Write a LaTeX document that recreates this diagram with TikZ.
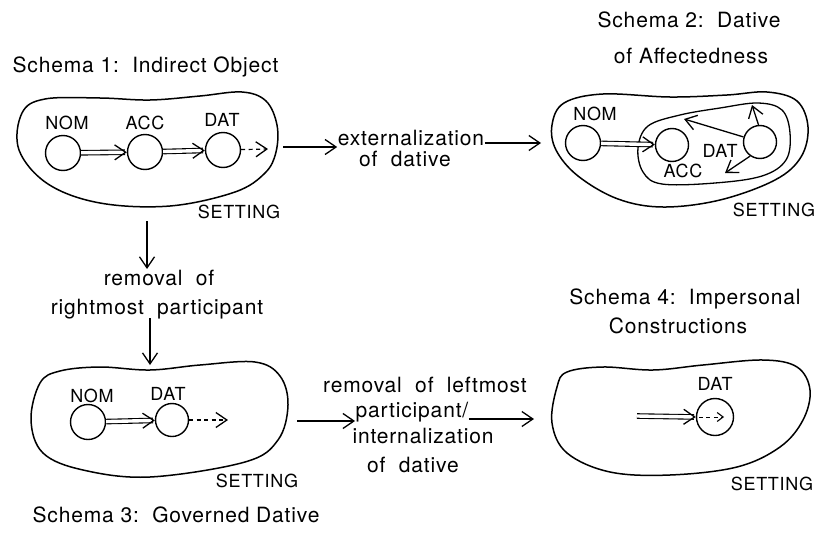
\documentclass[tikz,border=0pt]{standalone}
\usepackage{fontspec}
\setmainfont{TeX Gyre Heros}[LetterSpace=4]
\usetikzlibrary{arrows.meta,calc}

\begin{document}
\begin{tikzpicture}[x=1pt,y=-1pt,line width=1.3pt,
  blob/.style={draw,line width=1.5pt},
  role/.style={draw,circle,minimum size=35pt,inner sep=0pt,line width=1.4pt},
  lbl/.style={font=\fontsize{18}{20}\selectfont,inner sep=0pt,anchor=base},
  txt/.style={font=\fontsize{21}{27}\selectfont,inner sep=0pt,anchor=base},
  barbtip/.style={-{Straight Barb[length=11pt,width=15pt,line width=1.3pt]}},
  flow/.style={barbtip,line width=1.3pt},
  dbl/.style={double,double distance=3.4pt,line width=1.1pt,
    -{Straight Barb[length=11pt,width=15pt,line width=1.3pt]}},
  dsh/.style={barbtip,dash pattern=on 4pt off 3.5pt,line width=1.2pt}]
\useasboundingbox (0,0) rectangle (822,533);

% ---------- Schema 1: indirect object ----------
\node[txt,anchor=base west] (t1) at (12,72) {Schema 1:\ \ Indirect Object};
\draw[blob] plot[smooth cycle,tension=0.6] coordinates {
  (22,113) (45,99) (100,98) (150,100) (200,96) (242,92) (266,101)
  (277,125) (276,152) (265,173) (235,192) (170,206) (100,203) (48,184) (19,150)};
\node[role] (n1) at (63,153) {};
\node[role] (a1) at (145,152) {};
\node[role] (d1) at (223,150) {};
\node[lbl] (ln1) at (67,129) {NOM};
\node[lbl] (la1) at (145,129) {ACC};
\node[lbl] (ld1) at (222,126) {DAT};
\coordinate (e1) at (268,149);
\draw[dbl] (n1) -- (a1);
\draw[dbl] (a1) -- (d1);
\draw[dsh] (d1) -- (e1);
\node[lbl] (s1) at (239,218) {SETTING};

% ---------- externalization of dative ----------
\coordinate (c1) at (283,147);
\coordinate (c2) at (541,143);
\node[txt] (x1) at (411,145) {externalization};
\node[txt] (x2) at (405,166) {of\ \ dative};
\draw[flow] (c1) -- (c1 -| x1.west);
\draw[flow] (x1.east |- c2) -- (c2);

% ---------- Schema 2: dative of affectedness ----------
\node[txt] (t2a) at (689,27) {Schema 2:\ \ Dative};
\node[txt] (t2b) at (691,63) {of Affectedness};
\draw[blob] plot[smooth cycle,tension=0.6] coordinates {
  (552,125) (564,103) (603,94) (670,97) (727,95) (767,92) (797,101)
  (808,127) (801,157) (775,180) (720,200) (663,207) (618,199) (578,176) (556,150)};
\draw[line width=1.3pt] plot[smooth cycle,tension=0.6] coordinates {
  (638,148) (648,126) (680,115) (720,108) (758,103) (782,110)
  (790,133) (786,160) (762,176) (715,183) (662,184) (643,172)};
\node[role] (n2) at (583,143) {};
\node[role,minimum size=33pt] (a2) at (672,145) {};
\node[role,minimum size=33pt] (d2) at (760,142) {};
\node[lbl] (ln2) at (595,120) {NOM};
\node[lbl] (ld2) at (720,157) {DAT};
\node[lbl] (la2) at (683,177) {ACC};
\coordinate (u2) at (752,105);
\coordinate (k2) at (684,119);
\coordinate (w2) at (725,173);
\draw[dbl] (n2) -- (a2);
\draw[flow] (d2.163) -- (k2);
\draw[flow] (d2.95) -- (u2);
\draw[flow] (d2.235) -- (w2);
\node[lbl] (s2) at (774,216) {SETTING};

% ---------- removal of rightmost participant ----------
\coordinate (v1) at (147,221);
\coordinate (v2) at (150,365);
\coordinate (v3) at (150,318);
\node[txt] (r1) at (159,285) {removal\ \ of};
\node[txt] (r2) at (157,314) {rightmost\ \ participant};
\draw[flow] (v1) -- (v1 |- r1.north);
\draw[flow] (v3) -- (v2);

% ---------- Schema 3: governed dative ----------
\draw[blob] plot[smooth cycle,tension=0.6] coordinates {
  (40,383) (60,371) (100,367) (150,370) (200,365) (255,362) (280,376)
  (288,405) (278,440) (245,462) (150,477) (83,470) (43,453) (31,420)};
\node[role] (n3) at (88,422) {};
\node[role,minimum size=33pt] (d3) at (172,420) {};
\node[lbl] (ln3) at (92,402) {NOM};
\node[lbl] (ld3) at (168,400) {DAT};
\coordinate (e3) at (228,420);
\draw[dbl] (n3) -- (d3);
\draw[dsh] (d3) -- (e3);
\node[lbl] (s3) at (257,487) {SETTING};
\node[txt,anchor=base west] (t3) at (32,522) {Schema 3:\ \ Governed Dative};

% ---------- removal of leftmost participant / internalization ----------
\coordinate (c3) at (297,421);
\coordinate (c4) at (534,419);
\node[txt] (m1) at (425,392) {removal\ \ of\ \ leftmost};
\node[txt] (m2) at (412,417) {participant/};
\node[txt] (m3) at (423,443) {internalization};
\node[txt] (m4) at (413,472) {of\ \ dative};
\draw[flow] (c3) -- (c3 -| m2.west);
\draw[flow] (m2.east |- c4) -- (c4);

% ---------- Schema 4: impersonal constructions ----------
\node[txt] (t4a) at (685,304) {Schema 4:\ \ Impersonal};
\node[txt] (t4b) at (678,333) {Constructions};
\draw[blob] plot[smooth cycle,tension=0.6] coordinates {
  (557,387) (567,372) (603,367) (653,370) (703,365) (763,360) (797,367)
  (810,390) (803,420) (780,447) (737,467) (670,475) (610,472) (567,453) (552,423)};
\node[role,minimum size=37pt] (d4) at (715,417) {};
\node[lbl] (ld4) at (715,390) {DAT};
\coordinate (b4) at (637,416);
\draw[dbl] (b4) -- (d4.west);
\draw[dsh,line width=1pt,-{Straight Barb[length=6pt,width=9pt,line width=1.1pt]}]
  ([xshift=3pt]d4.west) -- ([xshift=9pt]d4.center);
\node[lbl] (s4) at (772,490) {SETTING};
\end{tikzpicture}
\end{document}
